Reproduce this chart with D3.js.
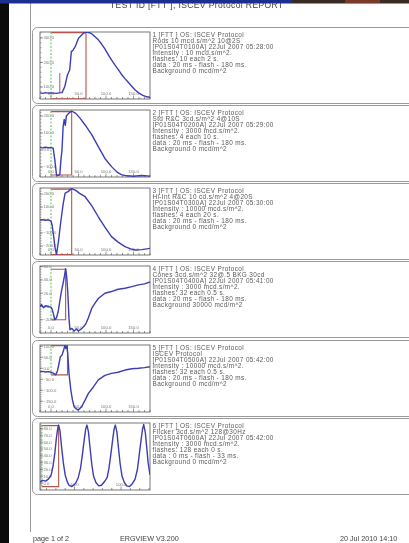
<!DOCTYPE html>
<html lang="en">
<head>
<meta charset="UTF-8" />
<title>ISCEV Protocol Report</title>
<script src="https://d3js.org/d3.v7.min.js"></script>
<style>
  body { margin: 0; background: #fff; overflow: hidden; }
  svg { display: block; font-family: "Liberation Sans", Arial, sans-serif; }
  .info text { font-size: 6.4px; fill: #5a5a5a; letter-spacing: 0.38px; }
  .lab { font-size: 4.2px; fill: #777; }
  .trace { fill: none; stroke: #3d3db5; stroke-width: 1.4px; stroke-linejoin: round; }
</style>
</head>
<body>
<svg width="409" height="543"></svg>
<script>
// ---- waveforms (ms, uV) ----
const rodsMs = [-20,-15,-10,-5,0,5,10,15,20,25,30,34,37,40,44,50,55,59,64,70,75,80,86,92,98,104,110,116,122,128,134,140,146,153,160,167,174,180];
const rodsUv = [76,74,77,75,76,75,74,76,77,101,150,169,244,250,264,299,310,319,324,321,315,305,292,275,255,232,210,190,172,152,135,120,105,88,75,66,60,58];

const stdMs = [-20,-15,-10,-5,0,4,7,10,13,16,18,20,22,24,26,28,32,37.6,45,52,62,74,86,98,110,120,128,138,150,165,180];
const stdUv = [14,12,16,13,14,10,-60,-147,-150,-145,-60,0,136,180,145,200,215,229,215,190,147,90,20,-50,-98,-130,-145,-152,-155,-150,-154];

const hiMs = [-20,-15,-10,-5,0,2,5,7,10,14,17,19,22,25.5,28,31,37.6,45,52,62,74,86,98,110,122,134.5,145,153,165,180];
const hiUv = [0,3,-2,1,-8,-40,-130,-205,-266,-150,-40,25,120,205,212,218,242,228,205,179,110,25,-55,-128,-170,-205,-222,-230,-228,-218];

const conesMs = [-20,-17,-14,-10,-5,0,2,4,7,10,13,16,19,22,24.5,26.6,28.5,30.4,32.7,34.5,38,42,46,50,55,60,64,68,74,80,86,98,110,122,134.5,147,159,170,180];
const conesUv = [0,3,-2,1,0,-1,-4,-10,-20,-17,-8,8,23,35,46,57,45,23,-18,-35,-33,-37,-34,-37,-34,-30,-25,-17,-3,5,12,20,22.5,26,27.5,30,32.5,34,37];

const photMs = [-20,-15,-10,-5,0,4,8.5,12,14,17,20,23,25.5,27,29,30.4,32.7,36,39,42,46,49.6,55.7,62,68,77,86,98,110,122,134.5,147,159,170,180];
const photUv = [-15,-14,-17,-15,-18,-22,-30,-10,15,53,60,83,106,90,100,68,-23,-98,-144,-175,-185,-190,-175,-145,-114,-85,-53,-32,-23,-18,-8,-2,0,3,7];

const flickMs = [13,16,19,22,25,27,29,30.5,32,33,34.5,36,38,40,42,44,47,50,52,54,56.5,58.5,60.5,62,63.4,65,66.5,68.5,70.5,73,76,79,82,85,87,89,91,92.5,93.8,95.5,97,99,101,103.5,106,109,112,115,117.5,119.5,121.5,123,124.2,126,127.5,129,131];
const flickUv = [2,4,3,6,12,25,45,65,80,85,76,55,30,12,3,-3,-5,-2,2,8,22,42,64,79,85,75,54,28,10,1,-4,-3,2,8,22,42,64,79,85,75,54,28,10,1,-4,-5,-1,6,20,42,64,79,86,74,52,30,12];

// ---- markers per step: flash, b-wave peak, a-wave trough ----
const flashMs = [0, 0, 0, 0, 0, 15];
const peakMs = [63.6, 37.6, 37.6, 26.6, 30, 33];
const peakUv = [324, 229, 242, 57, 106, 85];
const troughUv = [52, -147, -266, -20, -30, -5];
const rodsAwave = [16, 157];

// ---- axes ----
const yDomains = [[51, 324], [-159, 235], [-269, 246], [-40, 61], [-199, 106], [-10, 88]];
const yTicks = [
  [100, 200, 300],
  [-100, 0, 100, 200],
  [-200, -100, 0, 100, 200],
  [-20, 0, 20, 40, 60],
  [-150, -100, -50, 0, 50, 100],
  [0, 10, 20, 30, 40, 50, 60, 70, 80]
];
const xDomains = [[-20, 180], [-20, 180], [-20, 180], [-20, 180], [-20, 180], [13, 131]];
const xLabels = [[0, 50, 100, 150], [0, 50, 100, 150], [0, 50, 100, 150], [0, 50, 100, 150], [0, 50, 100, 150], [50, 100]];

const infoLines = [
  ["1 [FTT      ] OS: ISCEV Protocol", "Rods 10 mcd.s/m^2 10@2S", "[P01S04T0100A]  22Jul 2007 05:28:00", "intensity : 10 mcd.s/m^2.", "flashes: 10 each 2 s.", "data : 20 ms - flash - 180 ms.", "Background 0 mcd/m^2"],
  ["2 [FTT      ] OS: ISCEV Protocol", "Std R&C 3cd.s/m^2 4@10S", "[P01S04T0200A]  22Jul 2007 05:29:00", "intensity : 3000 mcd.s/m^2.", "flashes: 4 each 10 s.", "data : 20 ms - flash - 180 ms.", "Background 0 mcd/m^2"],
  ["3 [FTT      ] OS: ISCEV Protocol", "Hi-Int R&C 10 cd.s/m^2 4@20S", "[P01S04T0300A]  22Jul 2007 05:30:00", "intensity : 10000 mcd.s/m^2.", "flashes: 4 each 20 s.", "data : 20 ms - flash - 180 ms.", "Background 0 mcd/m^2"],
  ["4 [FTT      ] OS: ISCEV Protocol", "Cones 3cd.s/m^2 32@.5 BKG 30cd", "[P01S04T0400A]  22Jul 2007 05:41:00", "intensity : 3000 mcd.s/m^2.", "flashes: 32 each 0.5 s.", "data : 20 ms - flash - 180 ms.", "Background 30000 mcd/m^2"],
  ["5 [FTT      ] OS: ISCEV Protocol", "ISCEV Protocol", "[P01S04T0500A]  22Jul 2007 05:42:00", "intensity : 10000 mcd.s/m^2.", "flashes: 32 each 0.5 s.", "data : 20 ms - flash - 180 ms.", "Background 0 mcd/m^2"],
  ["6 [FTT      ] OS: ISCEV Protocol", "Flicker 3cd.s/m^2 128@30Hz", "[P01S04T0600A]  22Jul 2007 05:42:00", "intensity : 3000 mcd.s/m^2.", "flashes: 128 each 0 s.", "data : 0 ms - flash - 33 ms.", "Background 0 mcd/m^2"]
];

const traces = [
  [rodsMs, rodsUv], [stdMs, stdUv], [hiMs, hiUv],
  [conesMs, conesUv], [photMs, photUv], [flickMs, flickUv]
];

// ---- page ----
const svg = d3.select("svg");
const panelTops = [27, 105, 183, 261, 340, 418];
const boxX = 40, boxW = 110, boxH = 67;

// soft scan look
svg.append("defs").append("filter").attr("id", "scan")
  .append("feGaussianBlur").attr("stdDeviation", 0.22);

svg.append("rect").attr("width", 409).attr("height", 543).attr("fill", "#fff");
const page = svg.append("g").attr("filter", "url(#scan)");

// page margin line
page.append("line").attr("x1", 30.5).attr("x2", 30.5).attr("y1", 3).attr("y2", 532)
  .attr("stroke", "#999").attr("stroke-width", 1);

page.append("text").attr("x", 110).attr("y", 7.5)
  .attr("font-size", 8.5).attr("fill", "#444").attr("letter-spacing", 0.4)
  .text("TEST ID [FTT      ], ISCEV Protocol REPORT");

const fmt = d3.format(".1f");

panelTops.forEach((top, i) => {
  const g = page.append("g");

  g.append("rect")
    .attr("x", 32.5).attr("y", top + 0.5)
    .attr("width", 420).attr("height", 76)
    .attr("rx", 5)
    .attr("fill", "#fff").attr("stroke", "#9a9a9a").attr("stroke-width", 1);

  const boxY = top + 5;
  const x = d3.scaleLinear().domain(xDomains[i]).range([boxX, boxX + boxW]);
  const y = d3.scaleLinear().domain(yDomains[i]).range([boxY + boxH, boxY]);

  g.append("clipPath").attr("id", "clip" + i)
    .append("rect").attr("x", boxX).attr("y", boxY).attr("width", boxW).attr("height", boxH);

  g.append("rect")
    .attr("x", boxX).attr("y", boxY).attr("width", boxW).attr("height", boxH)
    .attr("fill", "#fff").attr("stroke", "#555").attr("stroke-width", 0.8);

  // y ticks, minor every fifth of a step
  const yt = yTicks[i];
  const step = yt[1] - yt[0];
  const minor = d3.range(yDomains[i][0] - (yDomains[i][0] % (step / 5)), yDomains[i][1], step / 5)
    .filter(v => v >= yDomains[i][0] && v <= yDomains[i][1]);
  g.selectAll(".ym").data(minor).enter().append("line")
    .attr("x1", boxX).attr("x2", boxX + 1.6)
    .attr("y1", d => y(d)).attr("y2", d => y(d))
    .attr("stroke", "#666").attr("stroke-width", 0.5);
  g.selectAll(".yM").data(yt).enter().append("line")
    .attr("x1", boxX).attr("x2", boxX + 3)
    .attr("y1", d => y(d)).attr("y2", d => y(d))
    .attr("stroke", "#555").attr("stroke-width", 0.6);
  g.selectAll(".yl").data(yt).enter().append("text")
    .attr("class", "lab")
    .attr("x", boxX + 3.5).attr("y", d => y(d) + 1.4)
    .text(d => fmt(d));

  // x ticks every 10 ms
  const xd = xDomains[i];
  const xt = d3.range(Math.ceil(xd[0] / 10) * 10, xd[1] + 0.1, 10);
  g.selectAll(".xt").data(xt).enter().append("line")
    .attr("x1", d => x(d)).attr("x2", d => x(d))
    .attr("y1", boxY + boxH).attr("y2", d => boxY + boxH - (d % 50 === 0 ? 3.5 : 2))
    .attr("stroke", "#555").attr("stroke-width", 0.6);
  g.selectAll(".xl").data(xLabels[i]).enter().append("text")
    .attr("class", "lab")
    .attr("x", d => x(d)).attr("y", boxY + boxH - 3.6)
    .attr("text-anchor", "middle")
    .text(d => fmt(d));

  const clip = g.append("g").attr("clip-path", `url(#clip${i})`);

  // flash to b-wave marker box
  const rx0 = x(flashMs[i]), rx1 = x(peakMs[i]);
  const ry0 = y(peakUv[i]), ry1 = y(troughUv[i]);
  clip.append("path")
    .attr("d", `M${rx0},${ry0 + 0.6}H${rx1}V${ry1}H${rx0}`)
    .attr("fill", "none").attr("stroke", "#b2574a").attr("stroke-width", 1.1);
  clip.append("line")
    .attr("x1", rx0).attr("x2", rx0).attr("y1", ry0).attr("y2", ry1)
    .attr("stroke", "#5cbf5c").attr("stroke-width", 1).attr("stroke-dasharray", "2,1.5");

  if (i === 0) {
    clip.append("line")
      .attr("x1", x(rodsAwave[0])).attr("x2", x(rodsAwave[0]))
      .attr("y1", y(rodsUv[0])).attr("y2", y(rodsAwave[1]))
      .attr("stroke", "#c0392b").attr("stroke-width", 0.9);
  }

  const pts = traces[i][0].map((t, k) => [t, traces[i][1][k]]);
  clip.append("path")
    .datum(pts)
    .attr("class", "trace")
    .attr("d", d3.line().x(d => x(d[0])).y(d => y(d[1])));

  // step description
  const info = g.append("g").attr("class", "info");
  info.selectAll("text").data(infoLines[i]).enter().append("text")
    .attr("x", 152.5)
    .attr("y", (d, k) => top + 10.3 + k * 5.9)
    .text(d => d);
});

// footer, right at the bottom edge of the scan
page.append("text").attr("x", 33).attr("y", 540.6).attr("font-size", 7.2).attr("fill", "#444").text("page 1 of 2");
page.append("text").attr("x", 120).attr("y", 540.6).attr("font-size", 7.2).attr("fill", "#444").text("ERGVIEW V3.200");
page.append("text").attr("x", 340).attr("y", 540.6).attr("font-size", 7.2).attr("fill", "#444").text("20 Jul 2010  14:10");

// scanner edges: black strip on the left, coloured band on top
svg.append("rect").attr("x", 0).attr("y", 0).attr("width", 9).attr("height", 543).attr("fill", "#0b0b0b");
svg.append("rect").attr("x", 0).attr("y", 0).attr("width", 292).attr("height", 3.5).attr("fill", "#1d2f8e");
svg.append("rect").attr("x", 292).attr("y", 0).attr("width", 117).attr("height", 3.5).attr("fill", "#3a2a24");
svg.append("rect").attr("x", 345).attr("y", 0).attr("width", 35).attr("height", 3).attr("fill", "#7a3a28");
</script>
</body>
</html>
